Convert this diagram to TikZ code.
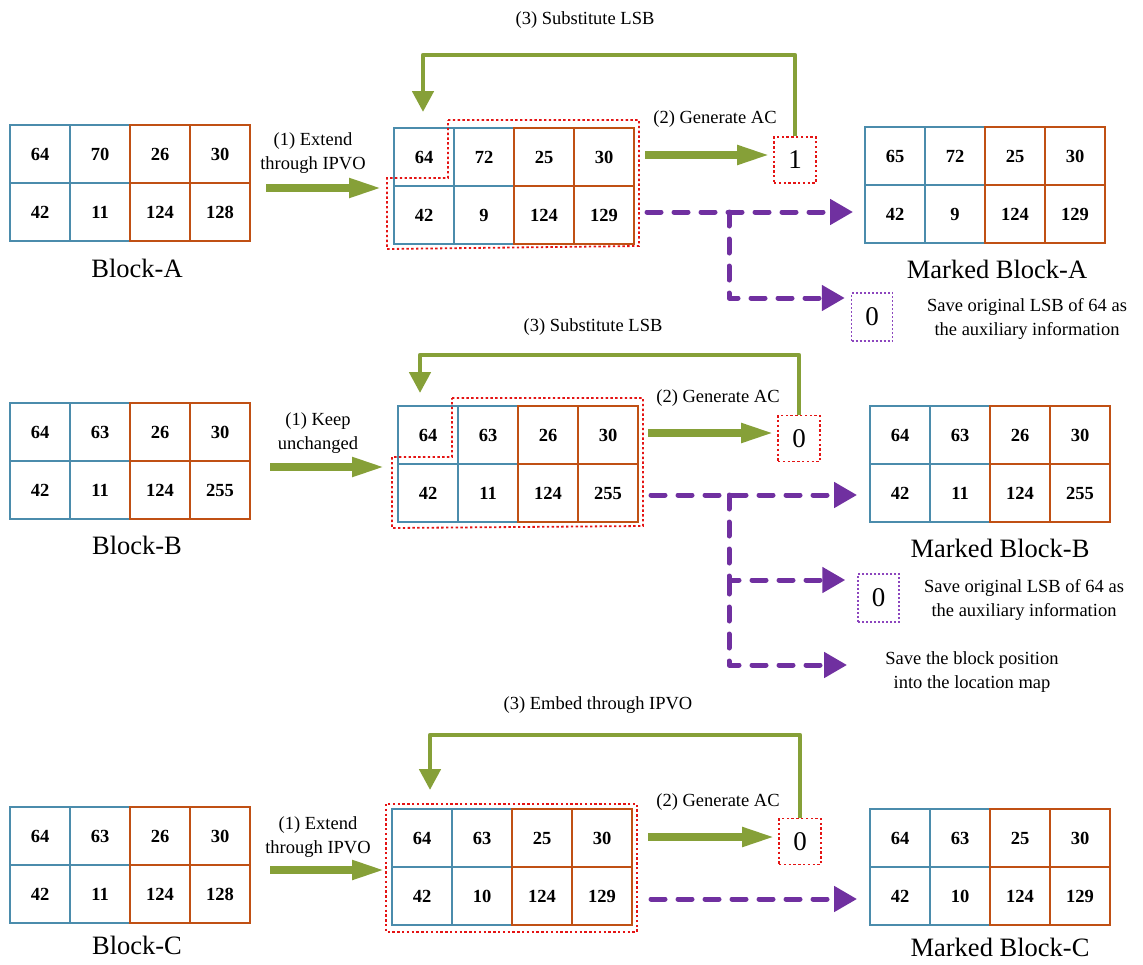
\documentclass[tikz,border=0pt]{standalone}
\usepackage{fontspec}
\setmainfont{Liberation Serif}[BoldFont={Liberation Serif Bold}]
\usetikzlibrary{arrows.meta}
\definecolor{cblue}{RGB}{75,140,172}
\definecolor{corange}{RGB}{192,80,20}
\definecolor{cgreen}{RGB}{134,160,56}
\definecolor{cpurple}{RGB}{112,48,160}
\definecolor{cred}{RGB}{228,20,20}
\definecolor{cpbox}{RGB}{140,70,190}
\tikzset{
 cell/.style={draw=#1, line width=2.1pt, inner sep=0pt, anchor=north west,
   font=\fontsize{18.5}{20}\selectfont\bfseries},
 garrow/.style={draw=cgreen, line width=7.5pt, -{Triangle[length=33pt,width=18pt]}},
 fbarrow/.style={draw=cgreen, line width=4.8pt, line join=round, -{Triangle[length=21pt,width=21pt]}},
 parrow/.style={draw=cpurple, line width=5pt, line cap=round, line join=round,
   dash pattern=on 14pt off 13pt, -{Triangle[length=23pt,width=25pt]}},
 redline/.style={draw=cred, line width=1.8pt, dash pattern=on 2.4pt off 2.4pt},
 acbox/.style={draw=cred, line width=1.8pt, dash pattern=on 2.4pt off 2.4pt,
   minimum width=42pt, minimum height=46pt, inner sep=0pt, font=\fontsize{27}{28}\selectfont},
 auxbox/.style={draw=cpbox, line width=1.5pt, dash pattern=on 2pt off 2pt,
   minimum width=41pt, minimum height=48pt, inner sep=0pt, font=\fontsize{27}{28}\selectfont},
 lbl/.style={inner sep=0pt, align=center, font=\fontsize{18.5}{23.5}\selectfont},
 big/.style={inner sep=0pt, font=\fontsize{26.5}{28}\selectfont},
}
\newcommand\mkblock[6]{%
 \foreach \v [count=\i from 0] in {#6} {%
   \pgfmathtruncatemacro\mycol{mod(\i,4)}%
   \pgfmathtruncatemacro\myrow{div(\i,4)}%
   \ifnum\mycol<2 \def\mycolor{cblue}\else\def\mycolor{corange}\fi
   \node[cell=\mycolor, minimum width=#4pt, minimum height=#5pt] (#1-\myrow-\mycol)
     at ({#2+\mycol*#4},{#3+\myrow*#5}) {\v};
 }}
\begin{document}
\begin{tikzpicture}[x=1pt,y=-1pt]
\useasboundingbox (0,0) rectangle (1143,964);
% ---------------- Section A ----------------
\mkblock{bA}{9}{124}{60}{58}{64,70,26,30,42,11,124,128}
\node[big] (lbA) at (137,268) {Block-A};
\node[lbl] (tA1) at (313,153) {(1) Extend\\through IPVO};
\draw[garrow] (266,188) -- (382,188);
\mkblock{mA}{393}{127}{60}{58}{64,72,25,30,42,9,124,129}
\draw[redline] (448,120) -- (639,120) -- (639,246) -- (387,249) -- (387,178) -- (448,178) -- cycle;
\node[acbox] (acA) at (795,160) {1};
\node[lbl] (tA2) at (715,119) {(2) Generate AC};
\draw[garrow] (645,155) -- ([xshift=-3pt]acA.west |- 0,155);
\node[lbl] (tA3) at (585,20) {(3) Substitute LSB};
\draw[fbarrow] (acA.north) |- (423,55) -- (423,112);
\mkblock{kA}{864}{126}{60}{58}{65,72,25,30,42,9,124,129}
\node[big] (lkA) at (997,269) {Marked Block-A};
\draw[parrow] (647,212) -- ([xshift=-11pt]kA-1-0.west |- 0,212);
\node[auxbox] (xA) at (872,317) {0};
\draw[parrow] (729,212) |- ([xshift=-6pt]xA.west |- 0,298);
\node[lbl] (sA) at (1027,319) {Save original LSB of 64 as\\the auxiliary information};
% ---------------- Section B ----------------
\mkblock{bB}{9}{402}{60}{58}{64,63,26,30,42,11,124,255}
\node[big] (lbB) at (137,545) {Block-B};
\node[lbl] (tB1) at (318,433) {(1) Keep\\unchanged};
\draw[garrow] (270,467) -- (385,467);
\mkblock{mB}{397}{405}{60}{58}{64,63,26,30,42,11,124,255}
\draw[redline] (452,398) -- (643,398) -- (643,526) -- (392,528) -- (392,457) -- (452,457) -- cycle;
\node[acbox] (acB) at (799,438.5) {0};
\node[lbl] (tB2) at (718,398) {(2) Generate AC};
\draw[garrow] (648,433) -- ([xshift=-3pt]acB.west |- 0,433);
\node[lbl] (tB3) at (593,327) {(3) Substitute LSB};
\draw[fbarrow] (acB.north) |- (420,355) -- (420,393);
\mkblock{kB}{869}{405}{60}{58}{64,63,26,30,42,11,124,255}
\node[big] (lkB) at (1000,548) {Marked Block-B};
\draw[parrow] (651,495) -- ([xshift=-12pt]kB-1-0.west |- 0,495);
\node[auxbox] (xB) at (878.5,598) {0};
\draw[parrow] (729,495) |- ([xshift=-12pt]xB.west |- 0,580);
\node[lbl] (sB) at (1024,600) {Save original LSB of 64 as\\the auxiliary information};
\coordinate (locB) at (847,665);
\draw[parrow] (729,580) |- (locB);
\node[lbl] (lmB) at (972,672) {Save the block position\\into the location map};
% ---------------- Section C ----------------
\mkblock{bC}{9}{806}{60}{58}{64,63,26,30,42,11,124,128}
\node[big] (lbC) at (137,945) {Block-C};
\node[lbl] (tC1) at (318,837) {(1) Extend\\through IPVO};
\draw[garrow] (270,870) -- (385,870);
\mkblock{mC}{391}{808}{60}{58}{64,63,25,30,42,10,124,129}
\draw[redline] (386,804) rectangle (637,932);
\node[acbox] (acC) at (800,841.5) {0};
\node[lbl] (tC2) at (718,802) {(2) Generate AC};
\draw[garrow] (648,837) -- ([xshift=-3pt]acC.west |- 0,837);
\node[lbl] (tC3) at (598,705) {(3) Embed through IPVO};
\draw[fbarrow] (acC.north) |- (430,735) -- (430,790);
\mkblock{kC}{869}{808}{60}{58}{64,63,25,30,42,10,124,129}
\node[big] (lkC) at (1000,947) {Marked Block-C};
\draw[parrow] (651,899) -- ([xshift=-12pt]kC-1-0.west |- 0,899);
\end{tikzpicture}
\end{document}
